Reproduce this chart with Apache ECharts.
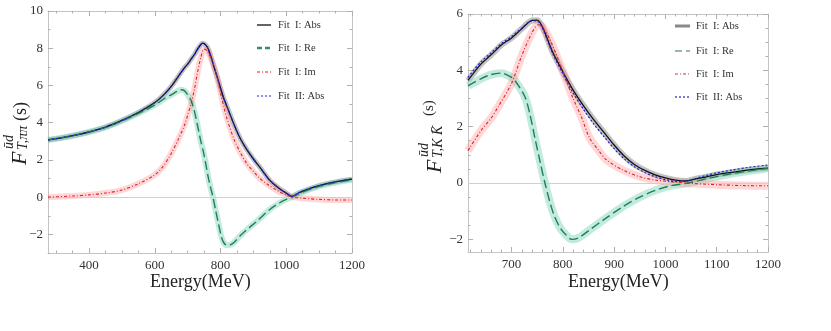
<!DOCTYPE html>
<html>
<head>
<meta charset="utf-8">
<script src="https://cdn.jsdelivr.net/npm/echarts@6/dist/echarts.min.js"></script>
<style>
html,body{margin:0;padding:0;background:#fff}
#chart{width:831px;height:331px}
</style>
</head>
<body>
<div id="chart"></div>
<script>
// ---- left panel (pi pi) ----
const leftXTicks=[400,600,800,1000,1200];
const leftYTicks=[-2,0,2,4,6,8,10];

const leftAbsE=[275,300,350,400,450,500,550,600,630,650,670,690,700,710,720,730,740,745,750,760,770,780,790,800,810,820,840,860,880,900,920,950,980,1000,1017,1040,1070,1100,1150,1200];
const leftAbsV=[3.08,3.14,3.3,3.5,3.76,4.12,4.55,5.08,5.55,5.95,6.45,6.95,7.15,7.4,7.65,7.95,8.2,8.27,8.25,8.05,7.6,7.0,6.45,5.85,5.3,4.85,3.95,3.15,2.55,2.05,1.6,0.9,0.45,0.22,0.04,0.25,0.45,0.62,0.82,0.97];
const leftAbs2V=[3.08,3.14,3.3,3.5,3.76,4.12,4.55,5.08,5.55,5.95,6.45,6.95,7.15,7.4,7.65,7.95,8.2,8.26,8.24,8.05,7.6,7.0,6.45,5.85,5.3,4.85,3.95,3.15,2.55,2.05,1.6,0.9,0.45,0.22,0.05,0.26,0.46,0.63,0.83,0.98];

const leftReE=[275,300,350,400,450,500,550,600,630,650,670,680,690,700,710,720,730,740,747,755,762,770,777,785,793,803,810,820,830,840,859,880,910,950,980,1000,1017,1050,1100,1150,1200];
const leftReV=[3.08,3.14,3.3,3.5,3.75,4.1,4.5,4.95,5.3,5.5,5.7,5.77,5.72,5.5,5.2,4.65,3.85,3.0,2.5,1.8,1.12,0.5,0.0,-0.7,-1.37,-2.15,-2.45,-2.59,-2.56,-2.45,-2.09,-1.75,-1.3,-0.66,-0.3,-0.12,0.0,0.27,0.58,0.78,0.93];

const leftImE=[275,350,400,450,500,550,600,625,650,670,690,700,710,720,730,740,750,760,770,780,790,800,810,820,840,860,880,900,920,950,980,1000,1020,1050,1100,1150,1200];
const leftImV=[0,0.06,0.12,0.22,0.38,0.72,1.2,1.65,2.35,3.05,3.85,4.4,5.0,5.75,6.7,7.5,7.95,7.85,7.5,7.0,6.4,5.6,4.85,4.2,3.15,2.4,1.8,1.38,1.0,0.6,0.28,0.12,0.0,-0.06,-0.12,-0.15,-0.15];

// ---- right panel (K Kbar) ----
const rightXTicks=[700,800,900,1000,1100,1200];
const rightYTicks=[-2,0,2,4,6];

const rightAbsE=[615,640,660,680,700,720,740,750,760,770,780,800,820,840,860,880,900,920,940,960,980,1000,1020,1040,1060,1080,1100,1130,1160,1200];
const rightAbsV=[3.64,4.22,4.55,4.9,5.15,5.48,5.77,5.78,5.55,5.1,4.65,3.95,3.3,2.75,2.25,1.8,1.35,0.95,0.65,0.45,0.29,0.18,0.1,0.07,0.15,0.22,0.3,0.38,0.46,0.53];
const rightAbs2V=[3.75,4.3,4.62,4.95,5.2,5.5,5.76,5.75,5.5,5.05,4.6,3.88,3.2,2.62,2.1,1.65,1.22,0.85,0.57,0.37,0.22,0.12,0.06,0.07,0.17,0.27,0.36,0.46,0.55,0.64];

const rightReE=[615,640,660,680,700,710,726,735,745,755,765,775,784,795,804,817,830,852,880,917,950,982,1010,1045,1080,1120,1160,1200];
const rightReV=[3.45,3.7,3.85,3.9,3.75,3.55,3.06,2.5,1.64,0.8,0.0,-0.7,-1.2,-1.6,-1.8,-2.0,-1.95,-1.67,-1.3,-0.84,-0.5,-0.25,-0.1,0.0,0.15,0.3,0.42,0.52];

const rightImE=[615,641,660,674,700,719,739,752,760,778,804,820,836,852,870,885,917,950,982,1040,1100,1150,1200];
const rightImV=[1.15,1.88,2.3,2.71,3.54,4.48,5.31,5.62,5.55,4.96,3.77,3.0,2.35,1.6,1.15,0.82,0.46,0.22,0.1,0.0,-0.06,-0.09,-0.1];

const legendNames=['Fit  I: Abs','Fit  I: Re','Fit  I: Im','Fit  II: Abs'];

const SERIF='Liberation Serif';
const FRAME='#c4c4c4';
const TICK='#b0b0b0';

function pairs(xs,ys){ return xs.map(function(x,i){ return [x,ys[i]]; }); }
function steps(a,b,s){ let out=[]; for(let v=a; v<=b+1e-9; v+=s){ out.push(+v.toFixed(3)); } return out; }

let grids=[], xAxes=[], yAxes=[];

function makeAxis(gi,pos,range,ticks,len,labels,line){
    let isX=(pos==='bottom'||pos==='top');
    return {
        type:'value', gridIndex:gi, position:pos, min:range[0], max:range[1],
        axisLine:{show:line, onZero:false, lineStyle:{color:FRAME,width:1}},
        splitLine:{show:false},
        axisTick:{show:true, inside:true, length:len, customValues:ticks, lineStyle:{color:TICK,width:1}},
        axisLabel:{show:labels, customValues:ticks, margin:isX?6:5, color:'#333', fontFamily:SERIF, fontSize:13,
            formatter:function(v){ return String(v).replace('-','\u2212'); }}
    };
}

// framed plot with major ticks, plus an overlay grid carrying the minor ticks
function addFrame(rect,xr,yr,xMaj,yMaj,xMin,yMin){
    let g=grids.length;
    let xi=xAxes.length, yi=yAxes.length;
    grids.push(Object.assign({},rect));
    xAxes.push(makeAxis(g,'bottom',xr,xMaj,5,true,true));
    xAxes.push(makeAxis(g,'top',xr,xMaj,5,false,true));
    yAxes.push(makeAxis(g,'left',yr,yMaj,5,true,true));
    yAxes.push(makeAxis(g,'right',yr,yMaj,5,false,true));
    grids.push(Object.assign({},rect));
    xAxes.push(makeAxis(g+1,'bottom',xr,xMin,2.5,false,false));
    xAxes.push(makeAxis(g+1,'top',xr,xMin,2.5,false,false));
    yAxes.push(makeAxis(g+1,'left',yr,yMin,2.5,false,false));
    yAxes.push(makeAxis(g+1,'right',yr,yMin,2.5,false,false));
    return {xi:xi, yi:yi};
}

const L=addFrame({left:48,top:11,width:304,height:242},[275,1200],[-3,10],leftXTicks,leftYTicks,steps(300,1200,50),steps(-3,10,1));
const R=addFrame({left:468,top:14,width:300,height:238},[615,1200],[-2.45,6],rightXTicks,rightYTicks,steps(620,1200,20),steps(-2,6,0.5));

function curve(name,data,ax,color,width,type,z){
    return {
        type:'line', name:name, data:data, xAxisIndex:ax.xi, yAxisIndex:ax.yi,
        showSymbol:false, symbol:'none', smooth:0.3, clip:true, z:z, silent:true,
        lineStyle:{color:color, width:width, type:type, cap:'butt', join:'round'},
        itemStyle:{color:color}
    };
}
function zeroLine(ax){
    return {type:'line', data:[], xAxisIndex:ax.xi, yAxisIndex:ax.yi, z:1, silent:true,
        markLine:{silent:true, symbol:'none', label:{show:false}, animation:false,
            lineStyle:{color:'#d0d0d0', width:1, type:'solid'}, data:[{yAxis:0}]}};
}

const GREY_BAND='rgba(120,120,120,0.45)';
const GREEN_BAND='rgba(120,210,180,0.45)';
const PINK_BAND='rgba(255,140,140,0.35)';
const BLACK='#111';
const GREEN='#1f7f55';
const RED='#e0202a';
const BLUE='#1f1fd8';

let series=[
    zeroLine(L), zeroLine(R),
    // uncertainty bands
    curve('bandL1',pairs(leftAbsE,leftAbsV),L,GREY_BAND,5,'solid',2),
    curve('bandL2',pairs(leftReE,leftReV),L,GREEN_BAND,6,'solid',2),
    curve('bandL3',pairs(leftImE,leftImV),L,PINK_BAND,6,'solid',2),
    curve('bandR1',pairs(rightAbsE,rightAbsV),R,GREY_BAND,6,'solid',2),
    curve('bandR2',pairs(rightReE,rightReV),R,GREEN_BAND,8,'solid',2),
    curve('bandR3',pairs(rightImE,rightImV),R,PINK_BAND,8,'solid',2),
    // central curves
    curve('L '+legendNames[0],pairs(leftAbsE,leftAbsV),L,BLACK,1.3,'solid',5),
    curve('L '+legendNames[1],pairs(leftReE,leftReV),L,GREEN,1.4,[9,4],6),
    curve('L '+legendNames[2],pairs(leftImE,leftImV),L,RED,1.1,[3,2,1,2],7),
    curve('L '+legendNames[3],pairs(leftAbsE,leftAbs2V),L,BLUE,1.2,[2,2],8),
    curve('R '+legendNames[0],pairs(rightAbsE,rightAbsV),R,BLACK,1.3,'solid',5),
    curve('R '+legendNames[1],pairs(rightReE,rightReV),R,GREEN,1.4,[9,4],6),
    curve('R '+legendNames[2],pairs(rightImE,rightImV),R,RED,1.1,[3,2,1,2],7),
    curve('R '+legendNames[3],pairs(rightAbsE,rightAbs2V),R,BLUE,1.2,[2,2],8)
];

// legend drawn as graphic lines + texts
function legendBox(x0,x1,tx,rows,styles){
    let out=[];
    legendNames.forEach(function(n,i){
        let s=styles[i];
        out.push({type:'line', z:50, shape:{x1:x0,y1:rows[i],x2:x1,y2:rows[i]},
            style:{stroke:s.color, lineWidth:s.width, lineDash:s.dash||null, lineCap:'butt'}});
        out.push({type:'text', z:50, x:tx, y:rows[i],
            style:{text:n, fill:'#333', font:'10.5px "'+SERIF+'"', verticalAlign:'middle'}});
    });
    return out;
}

function yTitle(x,y,sub,sLeft,sSize,sY){
    return {
        type:'group', x:x, y:y, rotation:Math.PI/2,
        children:[
            {type:'text', x:0, y:0, style:{text:'F', fill:'#222', font:'italic 22px "'+SERIF+'"', verticalAlign:'middle'}},
            {type:'text', x:16, y:-11, style:{text:'\u016Bd', fill:'#222', font:'italic 14px "'+SERIF+'"', verticalAlign:'middle'}},
            {type:'text', x:15, y:3, style:{text:sub, fill:'#222', font:'italic 14px "'+SERIF+'"', verticalAlign:'middle'}},
            {type:'text', x:sLeft, y:sY, style:{text:'(s)', fill:'#222', font:sSize+'px "'+SERIF+'"', verticalAlign:'middle'}}
        ]
    };
}

const graphics=[
    {type:'text', left:150, top:273, style:{text:'Energy(MeV)', fill:'#222', font:'18px "'+SERIF+'"'}},
    {type:'text', left:568, top:273, style:{text:'Energy(MeV)', fill:'#222', font:'18px "'+SERIF+'"'}},
    yTitle(20.5,165,'T,\u03C0\u03C0',44,18,1),
    yTitle(435,173,'T,K K\u0304',57,15,-6)
].concat(
    legendBox(257,271,278,[25,48,72,96],[
        {color:BLACK,width:1.3},
        {color:'#3a8a6a',width:2.5,dash:[5,3]},
        {color:RED,width:1.1,dash:[3,2,1,2]},
        {color:BLUE,width:1.2,dash:[2,2]}
    ]),
    legendBox(675,690,696,[26,51,74,97],[
        {color:'#888',width:3},
        {color:GREEN,width:1.2,dash:[7,4]},
        {color:'#c04040',width:1.1,dash:[3,2,1,2]},
        {color:BLUE,width:1.2,dash:[2,2]}
    ])
);

const chart=echarts.init(document.getElementById('chart'),null,{renderer:'canvas'});
chart.setOption({
    animation:false,
    backgroundColor:'#ffffff',
    grid:grids,
    xAxis:xAxes,
    yAxis:yAxes,
    graphic:graphics,
    series:series
});
</script>
</body>
</html>
